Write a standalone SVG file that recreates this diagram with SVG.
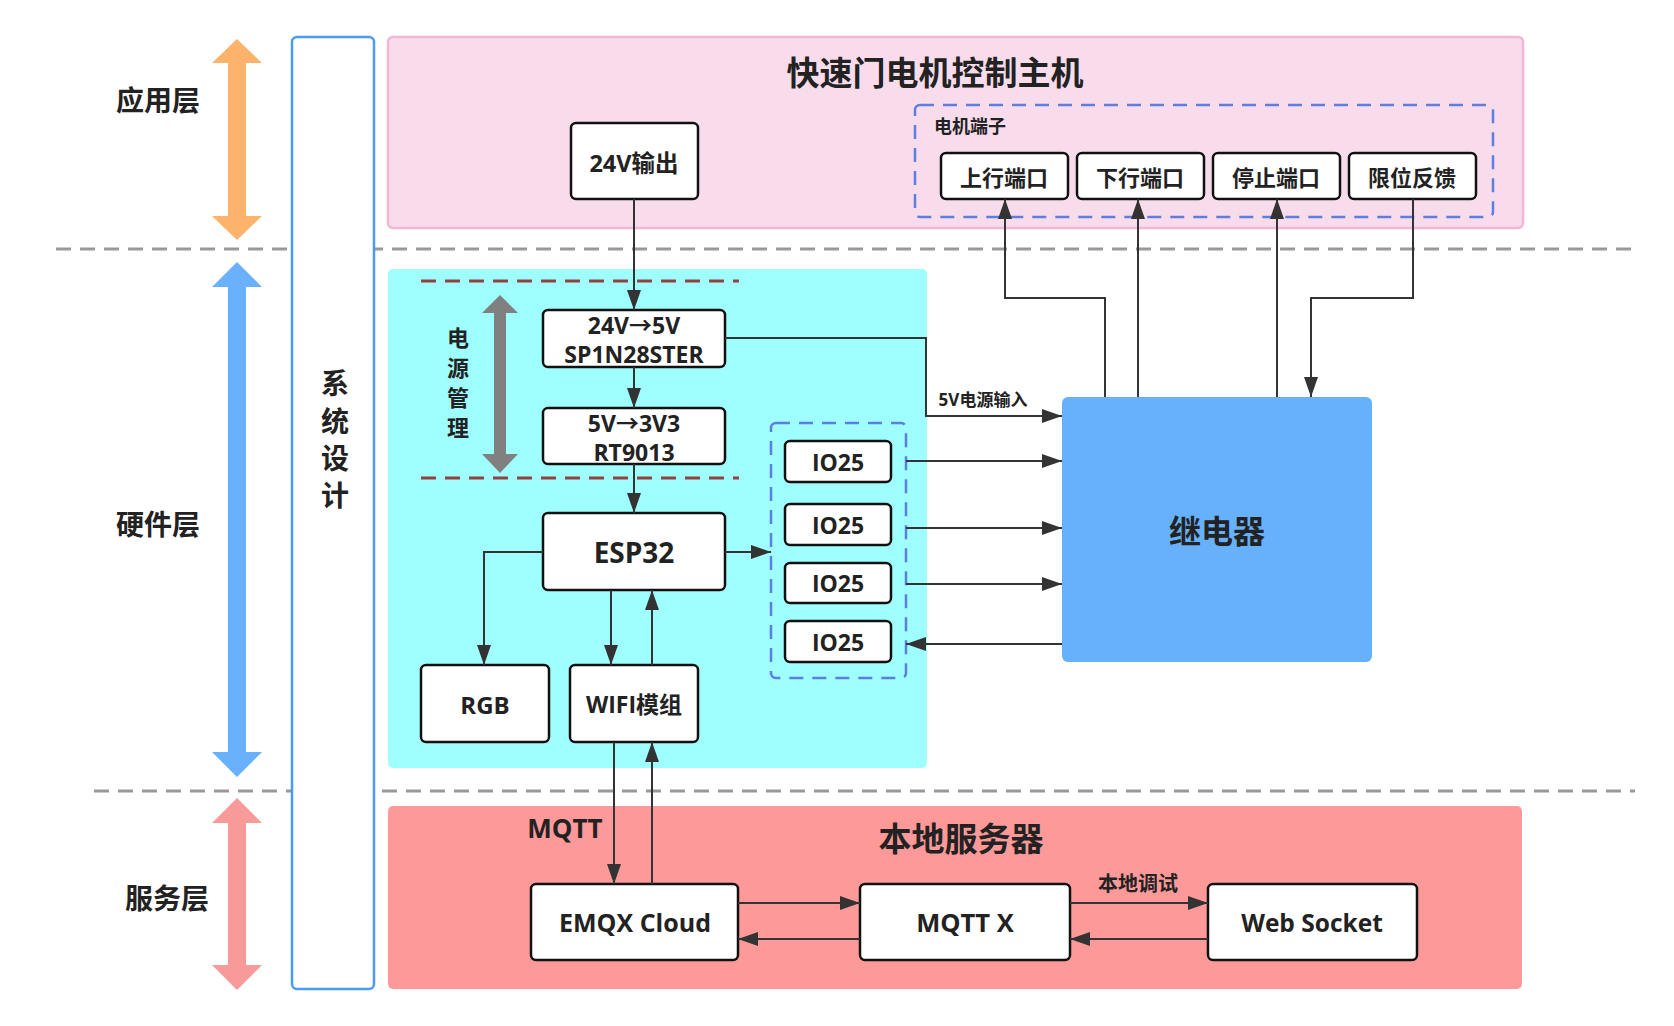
<svg xmlns="http://www.w3.org/2000/svg" width="1674" height="1026" viewBox="0 0 1674 1026">
<defs>
<style>
.t{font-family:"Open Sans","Noto Sans CJK SC",sans-serif;font-weight:700;fill:#222;text-anchor:middle;dominant-baseline:central}
.box{fill:#fff;stroke:#111;stroke-width:2.5}
.conn{fill:none;stroke:#333;stroke-width:2}
.arr{marker-end:url(#ah)}
.sep{stroke:#999;stroke-width:3;stroke-dasharray:15 9;fill:none}
.red{stroke:#94403f;stroke-width:3;stroke-dasharray:15 9;fill:none}
.blued{fill:none;stroke:#5b7fe0;stroke-width:2.5;stroke-dasharray:14 9}
</style>
<marker id="ah" markerUnits="userSpaceOnUse" markerWidth="20" markerHeight="14" refX="20" refY="7" orient="auto">
<path d="M0,0 L20,7 L0,14 z" fill="#333"/>
</marker>
</defs>
<rect width="1674" height="1026" fill="#fff"/>

<!-- separators -->
<line class="sep" x1="56" y1="249" x2="1631" y2="249"/>
<line class="sep" x1="94" y1="791" x2="1635" y2="791"/>

<!-- layer arrows -->
<g id="layer-app">
<path d="M237,39 L262,63 L246,63 L246,216 L262,216 L237,240 L212,216 L228,216 L228,63 L212,63 z" fill="#fdb36b"/>
<text class="t" x="158" y="100" font-size="28" fill="#333">应用层</text>
</g>
<g id="layer-hw">
<path d="M237,262 L262,287 L246,287 L246,752 L262,752 L237,777 L212,752 L228,752 L228,287 L212,287 z" fill="#69b1fd"/>
<text class="t" x="158" y="524" font-size="28">硬件层</text>
</g>
<g id="layer-svc">
<path d="M237,798 L262,823 L246,823 L246,965 L262,965 L237,990 L212,965 L228,965 L228,823 L212,823 z" fill="#f99a9a"/>
<text class="t" x="167" y="898" font-size="28">服务层</text>
</g>

<!-- system design column -->
<g id="sysdesign">
<rect x="292" y="37" width="82" height="952" rx="5" fill="#fff" stroke="#4a9cf0" stroke-width="2.5"/>
<text class="t" x="335" y="383" font-size="28">系</text>
<text class="t" x="335" y="421" font-size="28">统</text>
<text class="t" x="335" y="458" font-size="28">设</text>
<text class="t" x="335" y="495" font-size="28">计</text>
</g>

<!-- app layer container -->
<g id="host">
<rect x="388" y="37" width="1135" height="191" rx="5" fill="#f9dcec" stroke="#f3b6d5" stroke-width="2.5"/>
<text class="t" x="935" y="72" font-size="33" fill="#333">快速门电机控制主机</text>
</g>
<g id="motor-terminals">
<rect class="blued" x="915" y="105" width="578" height="112" rx="5"/>
<text class="t" x="934" y="126" font-size="18" style="text-anchor:start" fill="#333">电机端子</text>
</g>
<g id="out24"><rect class="box" x="571" y="123" width="127" height="76" rx="5"/><text class="t" x="634" y="163" font-size="23.5">24V输出</text></g>
<g id="port-up"><rect class="box" x="941" y="153" width="127" height="46" rx="5"/><text class="t" x="1004" y="177" font-size="22">上行端口</text></g>
<g id="port-down"><rect class="box" x="1077" y="153" width="127" height="46" rx="5"/><text class="t" x="1140" y="177" font-size="22">下行端口</text></g>
<g id="port-stop"><rect class="box" x="1213" y="153" width="127" height="46" rx="5"/><text class="t" x="1276" y="177" font-size="22">停止端口</text></g>
<g id="port-limit"><rect class="box" x="1349" y="153" width="127" height="46" rx="5"/><text class="t" x="1412" y="177" font-size="22">限位反馈</text></g>

<!-- hardware container -->
<g id="hw">
<rect x="388" y="269" width="539" height="499" rx="5" fill="#9ffefe"/>
<line class="red" x1="421" y1="281" x2="739" y2="281"/>
<line class="red" x1="421" y1="478" x2="739" y2="478"/>
<path d="M500,295 L518,313 L506,313 L506,454 L518,454 L500,473 L482,454 L494,454 L494,313 L482,313 z" fill="#808080"/>
<text class="t" x="458" y="337" font-size="22" fill="#2f4848">电</text>
<text class="t" x="458" y="367" font-size="22" fill="#2f4848">源</text>
<text class="t" x="458" y="397" font-size="22" fill="#2f4848">管</text>
<text class="t" x="458" y="427" font-size="22" fill="#2f4848">理</text>
</g>
<g id="conv1"><rect class="box" x="543" y="310" width="182" height="57" rx="5"/><text class="t" x="634" y="325" font-size="23">24V→5V</text><text class="t" x="634" y="354" font-size="23">SP1N28STER</text></g>
<g id="conv2"><rect class="box" x="543" y="408" width="182" height="56" rx="5"/><text class="t" x="634" y="423" font-size="23">5V→3V3</text><text class="t" x="634" y="452" font-size="23">RT9013</text></g>
<g id="esp32"><rect class="box" x="543" y="513" width="182" height="77" rx="5"/><text class="t" x="634" y="552" font-size="28">ESP32</text></g>
<g id="rgb"><rect class="box" x="421" y="665" width="128" height="77" rx="5"/><text class="t" x="485" y="704" font-size="24">RGB</text></g>
<g id="wifi"><rect class="box" x="570" y="665" width="128" height="77" rx="5"/><text class="t" x="634" y="704" font-size="23">WIFI模组</text></g>
<g id="io-group">
<rect class="blued" x="771" y="423" width="135" height="255" rx="5"/>
</g>
<g id="io1"><rect class="box" x="785" y="441" width="106" height="41" rx="5"/><text class="t" x="838" y="462" font-size="23">IO25</text></g>
<g id="io2"><rect class="box" x="785" y="504" width="106" height="41" rx="5"/><text class="t" x="838" y="525" font-size="23">IO25</text></g>
<g id="io3"><rect class="box" x="785" y="563" width="106" height="40" rx="5"/><text class="t" x="838" y="583" font-size="23">IO25</text></g>
<g id="io4"><rect class="box" x="785" y="621" width="106" height="41" rx="5"/><text class="t" x="838" y="642" font-size="23">IO25</text></g>
<g id="relay"><rect x="1062" y="397" width="310" height="265" rx="6" fill="#66b0fc"/><text class="t" x="1217" y="530" font-size="32" fill="#333">继电器</text></g>

<!-- service container -->
<g id="server">
<rect x="388" y="806" width="1134" height="183" rx="5" fill="#fe9999"/>
<text class="t" x="961" y="838" font-size="33" fill="#333">本地服务器</text>
</g>
<g id="emqx"><rect class="box" x="531" y="884" width="207" height="76" rx="5"/><text class="t" x="635" y="922" font-size="25" fill="#333">EMQX Cloud</text></g>
<g id="mqttx"><rect class="box" x="860" y="884" width="210" height="76" rx="5"/><text class="t" x="965" y="922" font-size="25.5" fill="#333">MQTT X</text></g>
<g id="websocket"><rect class="box" x="1208" y="884" width="209" height="76" rx="5"/><text class="t" x="1312" y="922" font-size="24.5" fill="#333">Web Socket</text></g>

<!-- connectors -->
<g id="connectors">
<path class="conn arr" d="M634,199 L634,310"/>
<path class="conn arr" d="M634,367 L634,408"/>
<path class="conn arr" d="M634,464 L634,513"/>
<path class="conn arr" d="M543,552 L484,552 L484,665"/>
<path class="conn arr" d="M611,590 L611,665"/>
<path class="conn arr" d="M652,665 L652,590"/>
<path class="conn arr" d="M725,552 L771,552"/>
<path class="conn arr" d="M725,338 L926,338 L926,416 L1062,416"/>
<text class="t" x="983" y="399" font-size="17" fill="#333">5V电源输入</text>
<path class="conn arr" d="M906,461 L1062,461"/>
<path class="conn arr" d="M906,528 L1062,528"/>
<path class="conn arr" d="M906,584 L1062,584"/>
<path class="conn arr" d="M1062,644 L906,644"/>
<path class="conn arr" d="M1105,397 L1105,298 L1005,298 L1005,199"/>
<path class="conn arr" d="M1138,397 L1138,199"/>
<path class="conn arr" d="M1277,397 L1277,199"/>
<path class="conn arr" d="M1413,199 L1413,298 L1311,298 L1311,397"/>
<path class="conn arr" d="M614,742 L614,884"/>
<path class="conn arr" d="M652,884 L652,742"/>
<text class="t" x="565" y="828" font-size="26" fill="#333">MQTT</text>
<path class="conn arr" d="M738,903 L860,903"/>
<path class="conn arr" d="M860,939 L738,939"/>
<path class="conn arr" d="M1070,903 L1208,903"/>
<path class="conn arr" d="M1208,939 L1070,939"/>
<text class="t" x="1138" y="883" font-size="20" fill="#333">本地调试</text>
</g>
</svg>
